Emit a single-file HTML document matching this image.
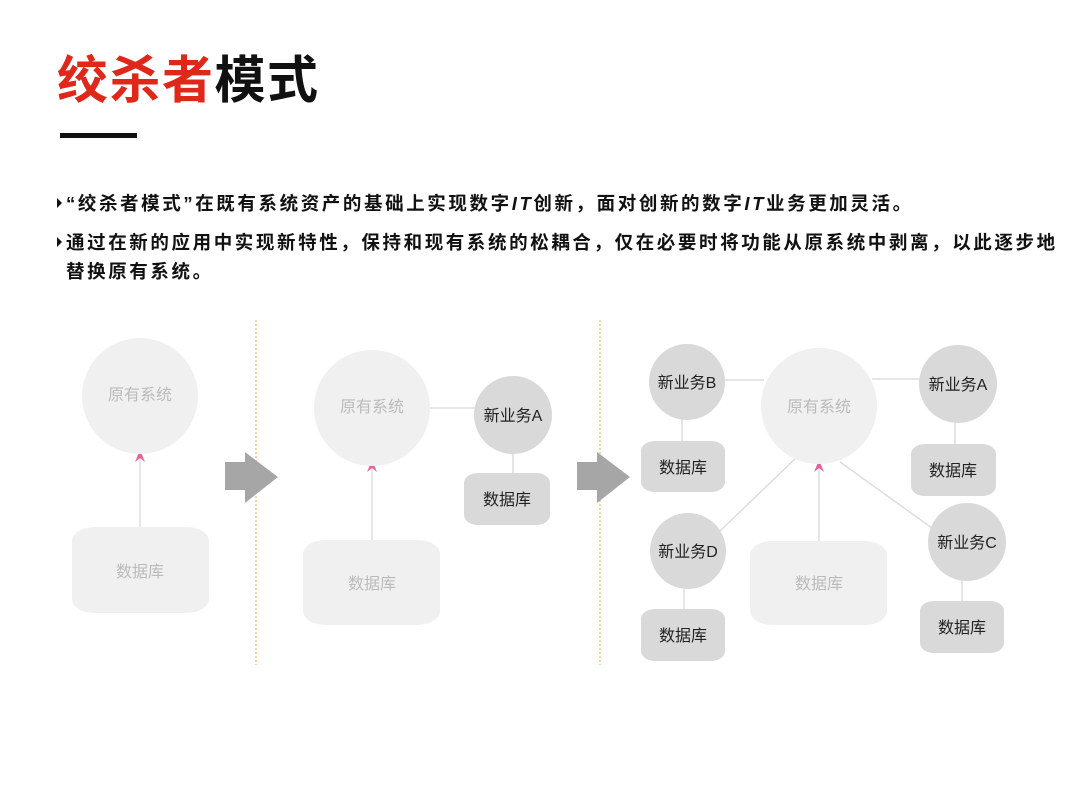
<!DOCTYPE html>
<html><head><meta charset="utf-8"><style>
body{margin:0;background:#fff;width:1080px;height:810px;overflow:hidden}
svg{display:block}
text{font-family:"Liberation Sans","Noto Sans CJK SC",sans-serif}
</style></head><body>
<svg width="1080" height="810" viewBox="0 0 1080 810">
<text x="57" y="98" font-size="51" font-weight="bold" letter-spacing="1.5" fill="#e0281a">绞杀者<tspan fill="#111">模式</tspan></text>
<rect x="60" y="133" width="77" height="5" fill="#111"/>
<g font-size="18.5" font-weight="bold" fill="#111" letter-spacing="2.6">
<path d="M57 198 L62 203 L57 208 Z" fill="#111"/>
<text x="66" y="210">“绞杀者模式”在既有系统资产的基础上实现数字<tspan font-style="italic">IT</tspan>创新，面对创新的数字<tspan font-style="italic">IT</tspan>业务更加灵活。</text>
<path d="M57 237 L62 242 L57 247 Z" fill="#111"/>
<text x="66" y="249">通过在新的应用中实现新特性，保持和现有系统的松耦合，仅在必要时将功能从原系统中剥离，以此逐步地</text>
<text x="66" y="278">替换原有系统。</text>
</g>
<g stroke="#f0b070" stroke-width="1.2" stroke-dasharray="2,2"><line x1="256" y1="320" x2="256" y2="665"/><line x1="600" y1="320" x2="600" y2="665"/></g>
<g fill="#a6a6a6"><path d="M225 462 H245 V452 L278 477 L245 503 V490 H225 Z"/><path d="M577 462 H597 V452 L630 477 L597 503 V490 H577 Z"/></g>
<g stroke="#ddd" stroke-width="1.5">
<line x1="140" y1="527" x2="140" y2="458"/>
<line x1="372" y1="540" x2="372" y2="468"/>
<line x1="430" y1="408" x2="476" y2="408"/>
<line x1="513" y1="452" x2="513" y2="476"/>
<line x1="819" y1="541" x2="819" y2="468"/>
<line x1="724" y1="380" x2="764" y2="380"/>
<line x1="872" y1="379" x2="922" y2="379"/>
<line x1="720" y1="531" x2="797" y2="457"/>
<line x1="932" y1="528" x2="840" y2="462"/>
<line x1="682" y1="418" x2="682" y2="444"/>
<line x1="955" y1="421" x2="955" y2="447"/>
<line x1="684" y1="588" x2="684" y2="612"/>
<line x1="962" y1="580" x2="962" y2="604"/>
</g>
<g fill="#e8609a"><path d="M135 462 L140 450 L145 462 L140 458Z"/><path d="M367 472 L372 460 L377 472 L372 468Z"/><path d="M814 472 L819 460 L824 472 L819 468Z"/></g>
<g fill="#f0f0f0">
<circle cx="140" cy="396" r="58"/><circle cx="372" cy="408" r="58"/><circle cx="819" cy="406" r="58"/>
<rect x="72" y="527" width="137" height="86" rx="22" ry="14"/>
<rect x="303" y="540" width="137" height="85" rx="22" ry="14"/>
<rect x="750" y="541" width="137" height="84" rx="22" ry="14"/>
</g>
<g fill="#d9d9d9">
<circle cx="513" cy="415" r="39"/><circle cx="687" cy="382" r="38"/><circle cx="958" cy="384" r="39"/><circle cx="688" cy="551" r="38"/><circle cx="967" cy="542" r="39"/>
<rect x="464" y="473" width="86" height="52" rx="14" ry="10"/>
<rect x="641" y="441" width="84" height="51" rx="14" ry="10"/>
<rect x="911" y="444" width="85" height="52" rx="14" ry="10"/>
<rect x="641" y="609" width="84" height="52" rx="14" ry="10"/>
<rect x="920" y="601" width="84" height="52" rx="14" ry="10"/>
</g>
<g font-size="16" fill="#bbb" text-anchor="middle">
<text x="140" y="400">原有系统</text><text x="372" y="412">原有系统</text><text x="819" y="412">原有系统</text>
<text x="140" y="577">数据库</text><text x="372" y="589">数据库</text><text x="819" y="589">数据库</text>
</g>
<g font-size="16" fill="#222" text-anchor="middle">
<text x="513" y="421">新业务A</text><text x="687" y="388">新业务B</text><text x="958" y="390">新业务A</text><text x="688" y="557">新业务D</text><text x="967" y="548">新业务C</text>
<text x="507" y="505">数据库</text><text x="683" y="473">数据库</text><text x="953" y="476">数据库</text><text x="683" y="641">数据库</text><text x="962" y="633">数据库</text>
</g>
</svg>
</body></html>
